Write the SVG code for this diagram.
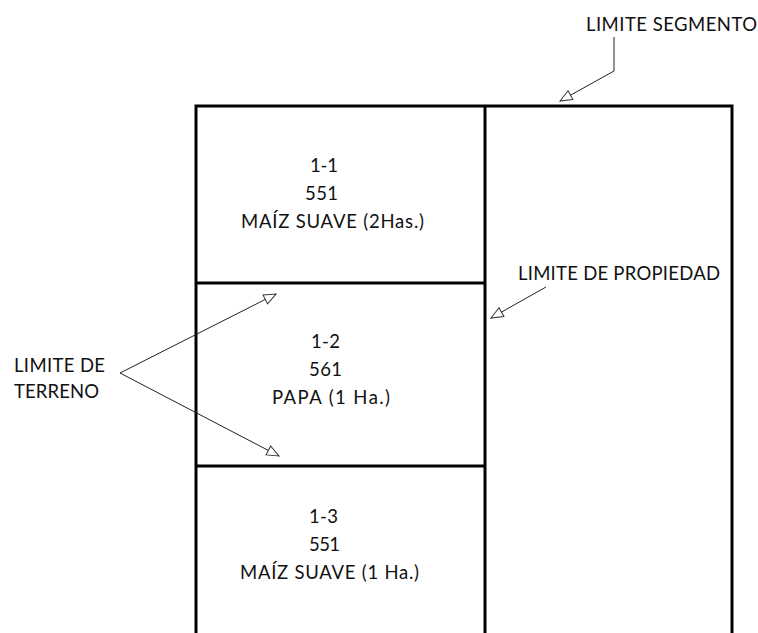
<svg xmlns="http://www.w3.org/2000/svg" width="758" height="633" viewBox="0 0 758 633">
<style>
text{font-family:Lato,"Liberation Sans",sans-serif;font-size:18.5px;fill:#111}
.b{fill:none;stroke:#000;stroke-width:3}
.c{fill:none;stroke:#222;stroke-width:1}
</style>
<defs>
<marker id="ah" markerUnits="userSpaceOnUse" markerWidth="14" markerHeight="12" refX="12" refY="5" orient="auto" viewBox="-1 -1 14 12">
<path d="M0,0 L12,5 L0,10 Z" fill="#fff" stroke="#333" stroke-width="1"/>
</marker>
</defs>
<rect width="758" height="633" fill="#fff"/>
<g id="property">
<path class="b" d="M196,633 V106 H732 V633 M485,106 V633"/>
</g>
<g id="lote-1-1">
<text x="310" y="172" textLength="28">1-1</text>
<text x="305" y="200" textLength="33">551</text>
<text x="241" y="228" textLength="183">MAÍZ SUAVE (2Has.)</text>
</g>
<g id="lote-1-2">
<path class="b" d="M196,283 H485"/>
<text x="311" y="348" textLength="29">1-2</text>
<text x="309" y="376" textLength="33">561</text>
<text x="272" y="404" textLength="118">PAPA (1 Ha.)</text>
</g>
<g id="lote-1-3">
<path class="b" d="M196,466 H485"/>
<text x="309" y="523" textLength="29">1-3</text>
<text x="309" y="551" textLength="31">551</text>
<text x="240" y="579" textLength="179">MAÍZ SUAVE (1 Ha.)</text>
</g>
<g id="label-segmento">
<text x="586" y="31" textLength="171">LIMITE SEGMENTO</text>
</g>
<g id="label-propiedad">
<text x="518" y="280" textLength="202">LIMITE DE PROPIEDAD</text>
</g>
<g id="label-terreno">
<text x="14" y="372" textLength="91">LIMITE DE</text>
<text x="14" y="398" textLength="85">TERRENO</text>
</g>
<g id="connectors">
<path class="c" d="M614,37 V71 L560,101" marker-end="url(#ah)"/>
<path class="c" d="M546,287 L491,318" marker-end="url(#ah)"/>
<path class="c" d="M120,373 L276,294" marker-end="url(#ah)"/>
<path class="c" d="M120,373 L279,456" marker-end="url(#ah)"/>
</g>
</svg>
